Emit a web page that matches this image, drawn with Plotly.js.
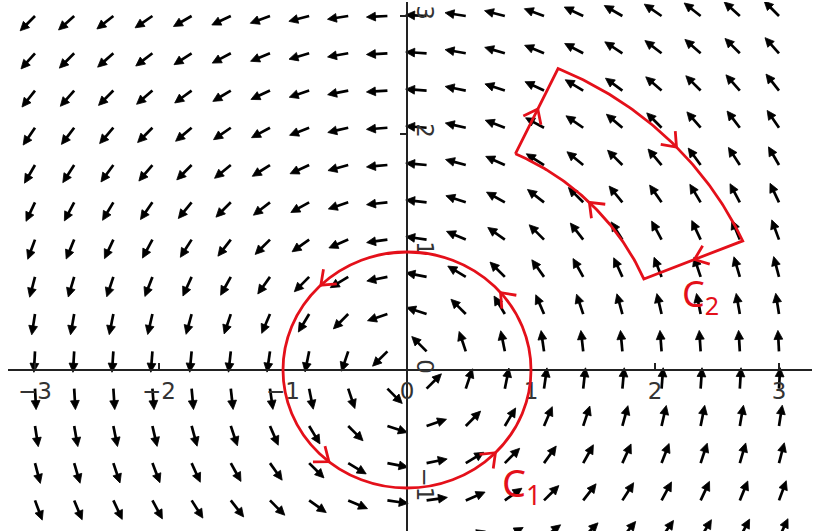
<!DOCTYPE html>
<html><head><meta charset="utf-8">
<script src="https://cdn.plot.ly/plotly-3.0.1.min.js"></script>
<style>html,body{margin:0;padding:0;background:#fff}#chart{width:815px;height:531px}</style>
</head><body><div id="chart"></div>
<script>
// ---- data ----
const gridX = [-3, -2.684, -2.368, -2.053, -1.737, -1.421, -1.105, -0.789, -0.474, -0.158,
               0.158, 0.474, 0.789, 1.105, 1.421, 1.737, 2.053, 2.368, 2.684, 3];
const gridY = [-1.421, -1.105, -0.789, -0.474, -0.158, 0.158, 0.474, 0.789, 1.105, 1.421,
               1.737, 2.053, 2.368, 2.684, 3];
// horizontal component of the field, one value per row (u = -y)
const uByRow = [1.421, 1.105, 0.789, 0.474, 0.158, -0.158, -0.474, -0.789, -1.105, -1.421,
                -1.737, -2.053, -2.368, -2.684, -3];
// vertical component of the field, one value per column (v = x)
const vByCol = [-3, -2.684, -2.368, -2.053, -1.737, -1.421, -1.105, -0.789, -0.474, -0.158,
                0.158, 0.474, 0.789, 1.105, 1.421, 1.737, 2.053, 2.368, 2.684, 3];
const xTickVals = [-3, -2, -1, 0, 1, 2, 3];
const xTickText = ['\u22123', '\u22122', '\u22121', '0', '1', '2', '3'];
const yTickVals = [-1, 0, 1, 2, 3];
const yTickText = ['\u22121', '0', '1', '2', '3'];
// curve C1: circle radius, and angles (deg) of the direction marks
const c1Radius = [1];
const c1MarkAngles = [134, 41, 231, 315.5];
// curve C2: annular sector (radius at start angle, at end angle)
const c2Angles = [22, 64.5];
const c2InnerR = [2.06, 2.03];
const c2OuterR = [2.92, 2.83];
// C2 direction marks: [edge, parameter]
const c2MarkEdges = ['left', 'outer', 'bottom', 'inner'];
const c2MarkParams = [2.45, 41, 2.5, 44];
const curveNames = ['C<sub>1</sub>', 'C<sub>2</sub>'];

// ---- layout geometry ----
const W = 815, H = 531, M = {l: 8, r: 3, t: 2, b: 0};
const XR = [-3.2177, 3.2661], YR = [-1.3644, 3.1186];
const sx = (W - M.l - M.r) / (XR[1] - XR[0]);
const sy = (H - M.t - M.b) / (YR[1] - YR[0]);
const RED = 'rgb(228,16,26)';
const INK = '#222';

// ---- quiver arrows (pivot at tail, constant screen length) ----
const L = 21, HL = 9, HW = 4.4;
const shaftX = [], shaftY = [], headX = [], headY = [];
gridY.forEach((y, i) => {
  gridX.forEach((x, j) => {
    const u = uByRow[i], v = vByCol[j];
    const n = Math.hypot(u, v);
    const ex = u / n, ey = v / n;
    const at = (a, b) => [x + (ex * a - ey * b) / sx, y + (ey * a + ex * b) / sy];
    const base = at(L - HL + 1, 0);
    shaftX.push(x, base[0], null); shaftY.push(y, base[1], null);
    const tip = at(L, 0), l = at(L - HL, HW), r = at(L - HL, -HW);
    headX.push(tip[0], l[0], r[0], tip[0], null);
    headY.push(tip[1], l[1], r[1], tip[1], null);
  });
});

// ---- C2 outline ----
function rAt(rs, th) { return rs[0] + (rs[1] - rs[0]) * (th - c2Angles[0]) / (c2Angles[1] - c2Angles[0]); }
const rad = d => d * Math.PI / 180;
const c2X = [], c2Y = [];
function pushPolar(r, th) { c2X.push(r * Math.cos(rad(th))); c2Y.push(r * Math.sin(rad(th))); }
pushPolar(c2InnerR[1], c2Angles[1]);
for (let th = c2Angles[1]; th >= c2Angles[0] - 1e-9; th -= 0.5) pushPolar(rAt(c2OuterR, th), th);
for (let th = c2Angles[0]; th <= c2Angles[1] + 1e-9; th += 0.5) pushPolar(rAt(c2InnerR, th), th);
pushPolar(c2InnerR[1], c2Angles[1]);

// ---- direction marks (chevrons) ----
const chevX = [], chevY = [];
function chevron(px, py, dx, dy) {
  let qx = dx * sx, qy = dy * sy; const n = Math.hypot(qx, qy); qx /= n; qy /= n;
  const arm = 16, ang = rad(38);
  [1, -1].forEach((s, k) => {
    const bx = -qx * Math.cos(ang) + s * qy * Math.sin(ang);
    const by = -qy * Math.cos(ang) - s * qx * Math.sin(ang);
    const ex = px + bx * arm / sx, ey = py + by * arm / sy;
    if (k === 0) { chevX.push(ex, px); chevY.push(ey, py); }
    else { chevX.push(ex, null); chevY.push(ey, null); }
  });
}
c1MarkAngles.forEach(a => {
  const r = c1Radius[0], t = rad(a);
  chevron(r * Math.cos(t), r * Math.sin(t), -Math.sin(t), Math.cos(t));
});
c2MarkEdges.forEach((e, i) => {
  const p = c2MarkParams[i];
  if (e === 'left') { const t = rad(c2Angles[1]); chevron(p * Math.cos(t), p * Math.sin(t), Math.cos(t), Math.sin(t)); }
  if (e === 'bottom') { const t = rad(c2Angles[0]); chevron(p * Math.cos(t), p * Math.sin(t), -Math.cos(t), -Math.sin(t)); }
  if (e === 'outer') { const t = rad(p), r = rAt(c2OuterR, p); chevron(r * Math.cos(t), r * Math.sin(t), Math.sin(t), -Math.cos(t)); }
  if (e === 'inner') { const t = rad(p), r = rAt(c2InnerR, p); chevron(r * Math.cos(t), r * Math.sin(t), -Math.sin(t), Math.cos(t)); }
});

const traces = [
  {x: shaftX, y: shaftY, mode: 'lines', line: {color: '#000', width: 2.7}, hoverinfo: 'skip'},
  {x: headX, y: headY, mode: 'lines', fill: 'toself', fillcolor: '#000', line: {color: '#000', width: 0.8}, hoverinfo: 'skip'},
  {x: c2X, y: c2Y, mode: 'lines', line: {color: RED, width: 2.8}, hoverinfo: 'skip'},
  {x: chevX, y: chevY, mode: 'lines', line: {color: RED, width: 2.8}, hoverinfo: 'skip'}
];

const TICKFONT = {family: 'DejaVu Sans, sans-serif', size: 23, color: '#333'};
const layout = {
  width: W, height: H, margin: M, showlegend: false,
  font: {family: 'DejaVu Sans, sans-serif', size: 18, color: '#333'},
  paper_bgcolor: '#fff', plot_bgcolor: '#fff',
  xaxis: {range: XR, showgrid: false, zeroline: false, showline: true, linecolor: INK, linewidth: 2,
    anchor: 'free', position: (0 - YR[0]) / (YR[1] - YR[0]), side: 'bottom', automargin: false,
    ticks: 'inside', ticklen: 6, tickwidth: 1.3, tickcolor: INK,
    tickmode: 'array', tickvals: xTickVals, ticktext: xTickText, tickfont: TICKFONT},
  yaxis: {range: YR, showgrid: false, zeroline: false, showline: true, linecolor: INK, linewidth: 2,
    anchor: 'free', position: (0 - XR[0]) / (XR[1] - XR[0]), side: 'right', automargin: false,
    ticks: 'inside', ticklen: 6, tickwidth: 1.3, tickcolor: INK, tickangle: 90,
    tickmode: 'array', tickvals: yTickVals, ticktext: yTickText, tickfont: TICKFONT},
  shapes: [{type: 'circle', xref: 'x', yref: 'y', x0: -c1Radius[0], x1: c1Radius[0], y0: -c1Radius[0], y1: c1Radius[0],
    line: {color: RED, width: 2.8}, layer: 'above'}],
  annotations: [
    {x: 0.92, y: -0.97, xref: 'x', yref: 'y', text: curveNames[0], showarrow: false,
     font: {family: 'Noto Sans', size: 38, color: RED}},
    {x: 2.37, y: 0.63, xref: 'x', yref: 'y', text: curveNames[1], showarrow: false,
     font: {family: 'Noto Sans', size: 36, color: RED}}
  ]
};
Plotly.newPlot('chart', traces, layout, {staticPlot: true, displayModeBar: false});
</script></body></html>
